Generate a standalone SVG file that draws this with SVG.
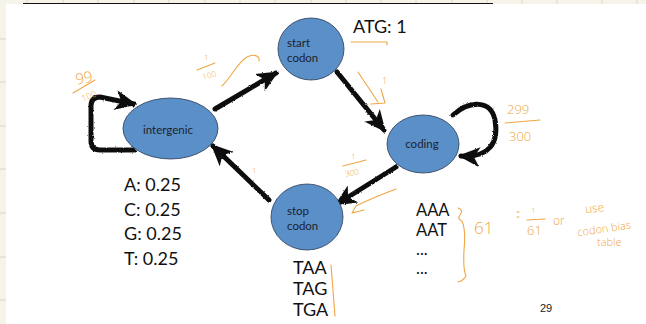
<svg xmlns="http://www.w3.org/2000/svg" width="646" height="324" viewBox="0 0 646 324">
<defs>
<style>
.node{fill:#5b8fc8;stroke:#2b3b55;stroke-width:0.8}
.nt{font-family:Lato,"Open Sans",sans-serif;font-size:11.5px;fill:#1a1f2e}
.big{font-family:Lato,"Open Sans",sans-serif;font-size:18px;fill:#111}
.mid{font-family:Lato,"Open Sans",sans-serif;font-size:16.5px;fill:#111}
.hw{font-family:"Open Sans","Noto Sans",sans-serif;font-weight:300;fill:#efa645}
.ink{fill:none;stroke:#efa645;stroke-width:1.1;stroke-linecap:round;stroke-linejoin:round}
.arr{fill:none;stroke:#111;stroke-width:5;stroke-linecap:round;stroke-linejoin:round}
.grid{stroke:#d9d6c6;stroke-width:1}
</style>
<marker id="ah" viewBox="0 0 22 20" refX="19" refY="10" markerWidth="22" markerHeight="20" markerUnits="userSpaceOnUse" orient="auto">
<path d="M0,0 L22,10 L0,20 L6,10 z" fill="#111"/>
</marker>
<filter id="rough" x="-10%" y="-10%" width="120%" height="120%">
<feTurbulence type="fractalNoise" baseFrequency="0.9" numOctaves="2" seed="3"/>
<feDisplacementMap in="SourceGraphic" scale="2.2" xChannelSelector="R" yChannelSelector="G"/>
</filter>
</defs>
<rect x="0" y="0" width="646" height="324" fill="#f6f4e9"/>
<g id="grid">
<path class="grid" d="M27,0V4M63,0V4M98,0V4M134,0V4M169,0V4M205,0V4M240,0V4M275,0V4M311,0V4M346,0V4M381,0V4M416,0V4M452,0V4M487,0V4M522,0V4M557,0V4M602,0V4M637,0V4"/>
<path class="grid" d="M0,39H6M0,82H6M0,126H6M0,169H6M0,213H6M0,257H6M0,300H6"/>
</g>
<rect x="6" y="4" width="640" height="320" fill="#ffffff"/>
<line x1="23" y1="3.5" x2="493" y2="3.5" stroke="#111" stroke-width="1.2"/>

<g id="connectors" filter="url(#rough)">
<path class="arr" d="M215,109 L276,73" marker-end="url(#ah)"/>
<path class="arr" d="M337,72 L384,130" marker-end="url(#ah)"/>
<path class="arr" d="M396,167 L337,204" marker-end="url(#ah)"/>
<path class="arr" d="M269,200 L213,146" marker-end="url(#ah)"/>
<path class="arr" d="M134,150 L100,150 Q91,150 91,141 L91,106 Q91,97 100,97 L134,104" marker-end="url(#ah)"/>
<path class="arr" d="M453,115 C470,100 491,100 495,120 C499,142 490,158 461,156" marker-end="url(#ah)"/>
</g>

<g id="intergenic">
<ellipse class="node" cx="170.5" cy="128.5" rx="47.5" ry="30.5"/>
<text class="nt" x="168" y="134" text-anchor="middle" font-size="13">intergenic</text>
</g>
<g id="start-codon">
<ellipse class="node" cx="311" cy="49" rx="33" ry="31"/>
<text class="nt" x="287" y="47">start</text>
<text class="nt" x="287" y="62">codon</text>
</g>
<g id="coding">
<ellipse class="node" cx="423" cy="144" rx="36" ry="29"/>
<text class="nt" x="422" y="148" text-anchor="middle" font-size="13">coding</text>
</g>
<g id="stop-codon">
<ellipse class="node" cx="307" cy="217" rx="36" ry="33"/>
<text class="nt" x="287" y="215">stop</text>
<text class="nt" x="287" y="230">codon</text>
</g>

<g id="labels">
<text class="big" x="353" y="33">ATG: 1</text>
<text class="big" x="124" y="191">A: 0.25</text>
<text class="big" x="124" y="216">C: 0.25</text>
<text class="big" x="124" y="240">G: 0.25</text>
<text class="big" x="124" y="265">T: 0.25</text>
<text class="big" x="293" y="274">TAA</text>
<text class="big" x="293" y="295">TAG</text>
<text class="big" x="293" y="316">TGA</text>
<text class="mid" x="416" y="216">AAA</text>
<text class="mid" x="416" y="236">AAT</text>
<text class="mid" x="416" y="255" font-size="14">...</text>
<text class="mid" x="416" y="274" font-size="14">...</text>
<text x="540" y="312" font-family="Liberation Sans,Arial,sans-serif" font-size="11" fill="#222">29</text>
</g>

<g id="annotations">
<text class="hw" x="75" y="83" font-size="15" transform="rotate(-12 84 76)">99</text>
<path class="ink" d="M73,93 L95,80"/>
<text class="hw" x="81" y="100" font-size="9" transform="rotate(-22 87 96)">100</text>

<text class="hw" x="204" y="60" font-size="8">1</text>
<path class="ink" d="M197,70 L215,63"/>
<text class="hw" x="202" y="78" font-size="8" transform="rotate(-15 210 74)">100</text>
<path class="ink" d="M222,86 C232,76 238,62 247,57 C253,54 260,55 259,61"/>

<path class="ink" d="M351,42 L387,42 L387,45"/>
<path class="ink" d="M358,72 L378,102 M371,104 L385,103 L381,89"/>
<text class="hw" x="382" y="84" font-size="9">1</text>

<text class="hw" x="351" y="159" font-size="8">1</text>
<path class="ink" d="M343,166 L366,160"/>
<text class="hw" x="345" y="175" font-size="8" transform="rotate(-10 356 172)">300</text>
<path class="ink" d="M396,189 Q372,198 356,206 L352,213 L364,210"/>

<text class="hw" x="507" y="114" font-size="13">299</text>
<path class="ink" d="M505,123 L540,120"/>
<text class="hw" x="509" y="141" font-size="13">300</text>

<text class="hw" x="252" y="173" font-size="8">1</text>

<path class="ink" d="M331,265 L335,316"/>

<path class="ink" d="M458,208 Q464,210 460,215 Q457,219 462,221 Q466,230 464,250 Q463,270 466,276 Q463,281 458,282"/>
<text class="hw" x="474" y="234" font-size="17">61</text>
<path class="ink" d="M517,212 L519,212 M517,217 L519,217"/>
<text class="hw" x="531" y="213" font-size="8">1</text>
<path class="ink" d="M527,220 L545,219"/>
<text class="hw" x="527" y="235" font-size="13">61</text>
<text class="hw" x="553" y="225" font-size="12">or</text>
<text class="hw" x="585" y="212" font-size="12" transform="rotate(-6 596 208)">use</text>
<text class="hw" x="577" y="232" font-size="11" transform="rotate(-8 607 228)">codon bias</text>
<text class="hw" x="597" y="246" font-size="11">table</text>
</g>
</svg>
